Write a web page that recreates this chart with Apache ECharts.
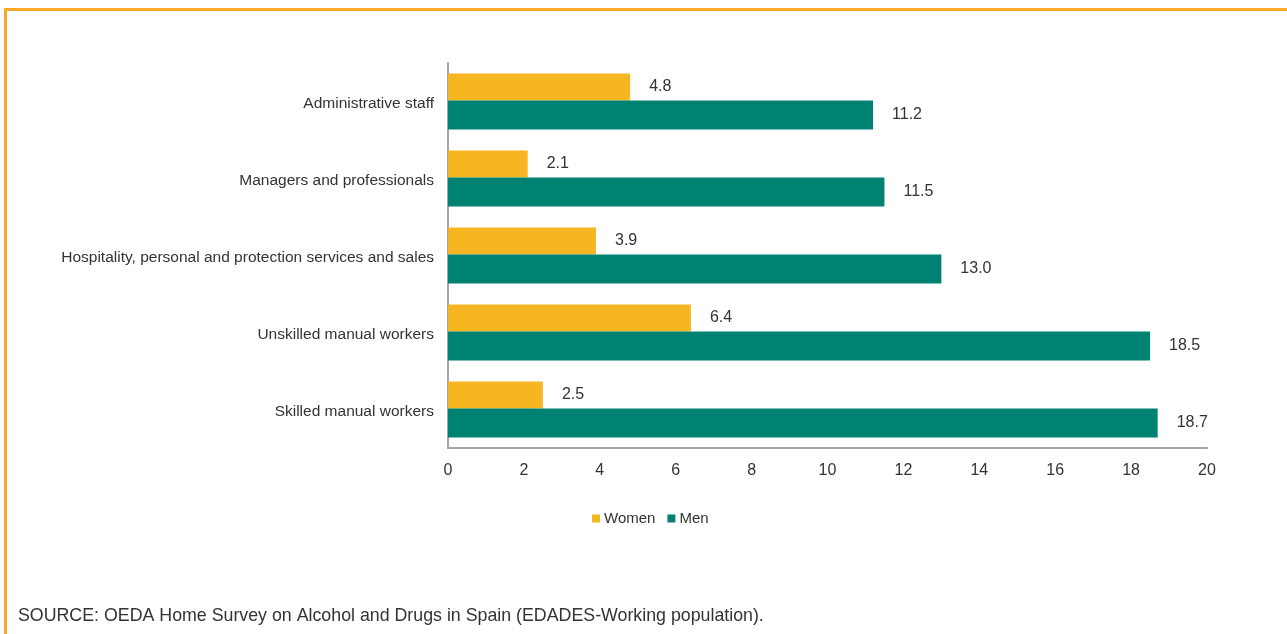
<!DOCTYPE html>
<html>
<head>
<meta charset="utf-8">
<script src="https://cdn.jsdelivr.net/npm/echarts@6/dist/echarts.min.js"></script>
<style>
  html, body { margin: 0; padding: 0; background: #fff; }
  #frame {
    position: absolute; left: 4px; top: 8px; width: 1283px; height: 626px;
    border-left: 3px solid #F9A826; border-top: 3px solid #F9A826;
    box-sizing: border-box;
  }
  #chart { position: absolute; left: 0; top: 0; width: 1287px; height: 634px; }
</style>
</head>
<body>
<div id="frame"></div>
<div id="chart"></div>
<script>
// Occupational groups, listed top to bottom
const categories = [
  'Administrative staff',
  'Managers and professionals',
  'Hospitality, personal and protection services and sales',
  'Unskilled manual workers',
  'Skilled manual workers'
];
const womenValues = [4.8, 2.1, 3.9, 6.4, 2.5];
const menValues = [11.2, 11.5, 13.0, 18.5, 18.7];
const xTicks = [0, 2, 4, 6, 8, 10, 12, 14, 16, 18, 20];
const sourceNote = 'SOURCE: OEDA Home Survey on Alcohol and Drugs in Spain (EDADES-Working population).';

const FONT = '"Liberation Sans", Arial, sans-serif';
const TEXT = '#333';

const chart = echarts.init(document.getElementById('chart'), null, { renderer: 'canvas' });

const valueLabel = {
  show: true,
  position: 'right',
  distance: 19,
  color: TEXT,
  fontFamily: FONT,
  fontSize: 16,
  formatter: p => p.value.toFixed(1)
};

chart.setOption({
  backgroundColor: 'transparent',
  animation: false,
  textStyle: { fontFamily: FONT },
  grid: { left: 448, right: 80, top: 63, bottom: 186, containLabel: false },
  legend: {
    data: ['Women', 'Men'],
    left: 587,
    top: 506,
    itemWidth: 8,
    itemHeight: 8,
    itemGap: 12,
    icon: 'rect',
    textStyle: { color: TEXT, fontSize: 15, fontFamily: FONT, padding: [0, 0, 0, -1] }
  },
  xAxis: {
    type: 'value',
    min: xTicks[0],
    max: xTicks[xTicks.length - 1],
    interval: xTicks[1] - xTicks[0],
    axisLine: { show: true, lineStyle: { color: '#a6a6a6', width: 2 } },
    axisTick: { show: false },
    splitLine: { show: false },
    axisLabel: { color: TEXT, fontSize: 16, fontFamily: FONT, margin: 15 }
  },
  yAxis: {
    type: 'category',
    inverse: true,
    data: categories,
    axisLine: { show: true, lineStyle: { color: '#a6a6a6', width: 2 } },
    axisTick: { show: false },
    axisLabel: {
      color: TEXT, fontSize: 15.5, fontFamily: FONT, margin: 14,
      formatter: v => '{c|' + v + '}',
      rich: { c: { color: TEXT, fontSize: 15.5, fontFamily: FONT, padding: [4, 0, 0, 0] } }
    }
  },
  series: [
    {
      name: 'Women',
      type: 'bar',
      data: womenValues,
      barWidth: 27,
      barGap: '0%',
      itemStyle: { color: '#F5B622' },
      label: valueLabel
    },
    {
      name: 'Men',
      type: 'bar',
      data: menValues,
      barWidth: 29,
      itemStyle: { color: '#008272' },
      label: valueLabel
    }
  ],
  graphic: [
    {
      type: 'text',
      left: 18,
      top: 607,
      style: { text: sourceNote, fill: TEXT, fontSize: 17.8, fontFamily: FONT }
    }
  ]
});
</script>
</body>
</html>
